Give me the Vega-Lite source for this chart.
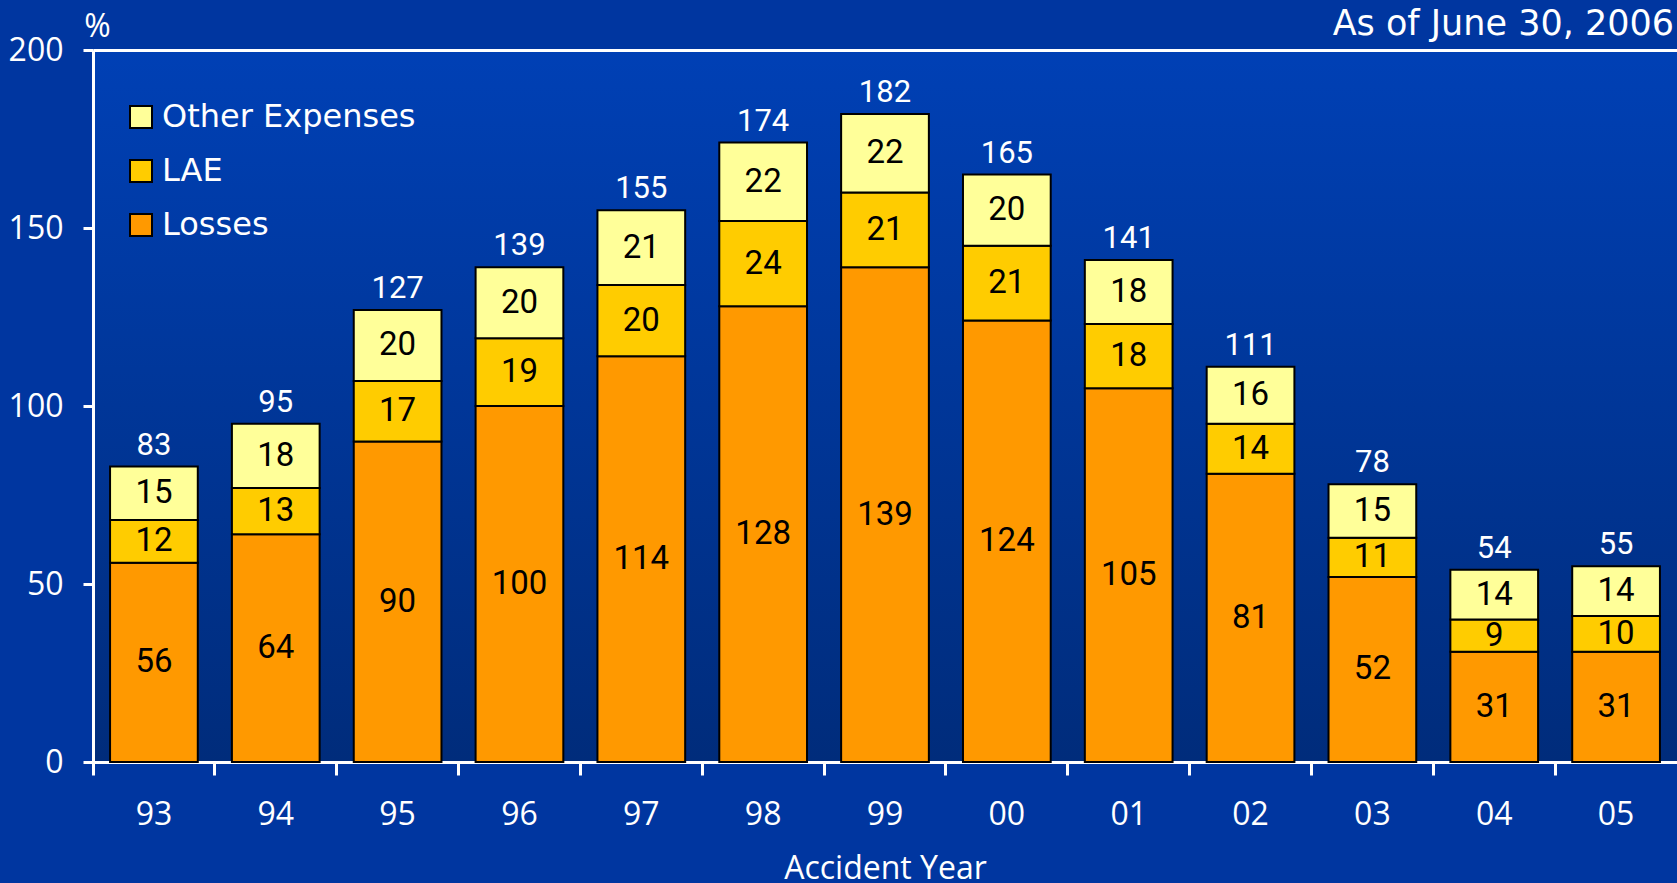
{
  "$schema": "https://vega.github.io/schema/vega-lite/v6.json",
  "width": 1584,
  "height": 712,
  "autosize": "none",
  "padding": {"left": 93, "top": 50, "right": 0, "bottom": 121},
  "background": "#0036A0",
  "config": {
    "view": {
      "stroke": null,
      "fill": {"gradient": "linear", "x1": 0, "y1": 0, "x2": 0, "y2": 1, "stops": [{"offset": 0, "color": "#0040B5"}, {"offset": 1, "color": "#002C7B"}]}
    },
    "axis": {
      "domainColor": "white", "tickColor": "white", "labelColor": "white", "titleColor": "white",
      "labelFont": "Open Sans", "titleFont": "Open Sans", "labelFontSize": 32, "titleFontSize": 32,
      "titleFontWeight": "normal", "domainWidth": 3, "tickWidth": 3
    },
    "legend": {
      "labelFont": "DejaVu Sans", "labelFontSize": 32, "labelColor": "white", "labelLimit": 0,
      "symbolType": "square", "symbolSize": 484, "symbolStrokeColor": "black", "symbolStrokeWidth": 2,
      "symbolOpacity": 1, "rowPadding": 22, "labelOffset": 5
    }
  },
  "title": {
    "text": "As of June 30, 2006", "anchor": "end", "frame": "group", "orient": "top",
    "font": "DejaVu Sans", "fontSize": 35, "fontWeight": "normal", "color": "white",
    "baseline": "alphabetic", "offset": -60, "dx": -3
  },
  "data": {
    "values": [
      {"year": "93", "category": "Losses", "value": 56, "order": 1},
      {"year": "93", "category": "LAE", "value": 12, "order": 2},
      {"year": "93", "category": "Other Expenses", "value": 15, "order": 3},
      {"year": "94", "category": "Losses", "value": 64, "order": 1},
      {"year": "94", "category": "LAE", "value": 13, "order": 2},
      {"year": "94", "category": "Other Expenses", "value": 18, "order": 3},
      {"year": "95", "category": "Losses", "value": 90, "order": 1},
      {"year": "95", "category": "LAE", "value": 17, "order": 2},
      {"year": "95", "category": "Other Expenses", "value": 20, "order": 3},
      {"year": "96", "category": "Losses", "value": 100, "order": 1},
      {"year": "96", "category": "LAE", "value": 19, "order": 2},
      {"year": "96", "category": "Other Expenses", "value": 20, "order": 3},
      {"year": "97", "category": "Losses", "value": 114, "order": 1},
      {"year": "97", "category": "LAE", "value": 20, "order": 2},
      {"year": "97", "category": "Other Expenses", "value": 21, "order": 3},
      {"year": "98", "category": "Losses", "value": 128, "order": 1},
      {"year": "98", "category": "LAE", "value": 24, "order": 2},
      {"year": "98", "category": "Other Expenses", "value": 22, "order": 3},
      {"year": "99", "category": "Losses", "value": 139, "order": 1},
      {"year": "99", "category": "LAE", "value": 21, "order": 2},
      {"year": "99", "category": "Other Expenses", "value": 22, "order": 3},
      {"year": "00", "category": "Losses", "value": 124, "order": 1},
      {"year": "00", "category": "LAE", "value": 21, "order": 2},
      {"year": "00", "category": "Other Expenses", "value": 20, "order": 3},
      {"year": "01", "category": "Losses", "value": 105, "order": 1},
      {"year": "01", "category": "LAE", "value": 18, "order": 2},
      {"year": "01", "category": "Other Expenses", "value": 18, "order": 3},
      {"year": "02", "category": "Losses", "value": 81, "order": 1},
      {"year": "02", "category": "LAE", "value": 14, "order": 2},
      {"year": "02", "category": "Other Expenses", "value": 16, "order": 3},
      {"year": "03", "category": "Losses", "value": 52, "order": 1},
      {"year": "03", "category": "LAE", "value": 11, "order": 2},
      {"year": "03", "category": "Other Expenses", "value": 15, "order": 3},
      {"year": "04", "category": "Losses", "value": 31, "order": 1},
      {"year": "04", "category": "LAE", "value": 9, "order": 2},
      {"year": "04", "category": "Other Expenses", "value": 14, "order": 3},
      {"year": "05", "category": "Losses", "value": 31, "order": 1},
      {"year": "05", "category": "LAE", "value": 10, "order": 2},
      {"year": "05", "category": "Other Expenses", "value": 14, "order": 3}
    ]
  },
  "encoding": {
    "x": {
      "field": "year", "type": "nominal",
      "sort": ["93", "94", "95", "96", "97", "98", "99", "00", "01", "02", "03", "04", "05"],
      "scale": {"paddingInner": 0.28, "paddingOuter": 0.14},
      "axis": {
        "title": "Accident Year", "labelAngle": 0, "tickSize": 13, "bandPosition": -0.1944,
        "labelBaseline": "alphabetic", "labelPadding": 49,
        "titleBaseline": "alphabetic", "titleY": 116
      }
    }
  },
  "layer": [
    {
      "mark": {"type": "bar", "stroke": "black", "strokeWidth": 2},
      "encoding": {
        "y": {
          "field": "value", "type": "quantitative", "stack": "zero",
          "scale": {"domain": [0, 200], "nice": false},
          "axis": {
            "title": "%", "values": [0, 50, 100, 150, 200], "tickSize": 10, "labelPadding": 20,
            "titleAngle": 0, "titleX": 4, "titleY": -14, "titleAlign": "center", "titleBaseline": "alphabetic",
            "grid": true, "gridColor": "white", "gridWidth": 3,
            "gridOpacity": {"condition": {"test": "datum.value === 200", "value": 1}, "value": 0}
          }
        },
        "color": {
          "field": "category", "type": "nominal",
          "scale": {"domain": ["Other Expenses", "LAE", "Losses"], "range": ["#FFFF99", "#FFCC00", "#FF9900"]},
          "legend": {"title": null, "orient": "none", "legendX": 32, "legendY": 51}
        },
        "order": {"field": "order", "type": "quantitative", "sort": "ascending"}
      }
    },
    {
      "mark": {"type": "text", "font": "Roboto", "fontSize": 33, "color": "black", "baseline": "middle"},
      "encoding": {
        "y": {"field": "value", "type": "quantitative", "stack": "zero", "bandPosition": 0.5},
        "text": {"field": "value", "type": "quantitative"},
        "order": {"field": "order", "type": "quantitative", "sort": "ascending"},
        "detail": {"field": "category"}
      }
    },
    {
      "data": {
        "values": [
          {"year": "93", "total": 83}, {"year": "94", "total": 95}, {"year": "95", "total": 127},
          {"year": "96", "total": 139}, {"year": "97", "total": 155}, {"year": "98", "total": 174},
          {"year": "99", "total": 182}, {"year": "00", "total": 165}, {"year": "01", "total": 141},
          {"year": "02", "total": 111}, {"year": "03", "total": 78}, {"year": "04", "total": 54},
          {"year": "05", "total": 55}
        ]
      },
      "mark": {"type": "text", "font": "Roboto", "fontSize": 31, "color": "white", "baseline": "alphabetic", "dy": -12},
      "encoding": {
        "y": {"field": "total", "type": "quantitative"},
        "text": {"field": "total", "type": "quantitative"}
      }
    }
  ]
}
